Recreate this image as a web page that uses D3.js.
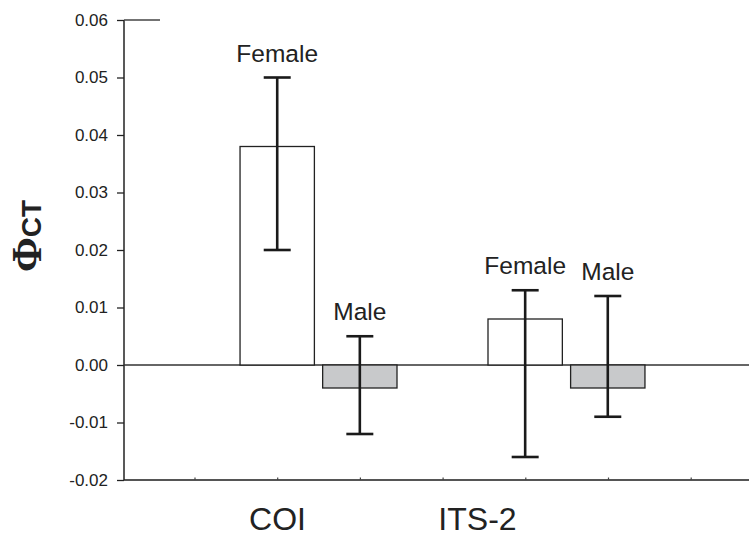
<!DOCTYPE html>
<html>
<head>
<meta charset="utf-8">
<script src="https://cdn.jsdelivr.net/npm/d3@7"></script>
<style>
  html, body { margin: 0; padding: 0; background: #fff; }
  svg { display: block; }
</style>
</head>
<body>
<svg id="chart" width="749" height="539"></svg>
<script>
// ---- data ----
const markers = ["COI", "ITS-2"];
const sexes = ["Female", "Male"];
const meanValues = [[0.038, -0.004], [0.008, -0.004]];
const upperValues = [[0.050, 0.005], [0.013, 0.012]];
const lowerValues = [[0.020, -0.012], [-0.016, -0.009]];
const yTicks = [-0.02, -0.01, 0.00, 0.01, 0.02, 0.03, 0.04, 0.05, 0.06];
const yTickLabels = ["-0.02", "-0.01", "0.00", "0.01", "0.02", "0.03", "0.04", "0.05", "0.06"];

// ---- layout ----
const W = 749, H = 539;
const axisX = 124, plotTop = 20, plotBottom = 480;
const font = "'Liberation Sans', Arial, Helvetica, sans-serif";
const labelOffsets = [-41, -89]; // category label shift from group centre

const svg = d3.select("#chart");

const y = d3.scaleLinear().domain([-0.02, 0.06]).range([plotBottom, plotTop]);
const x0 = d3.scaleBand().domain(markers).range([axisX, 761]).paddingInner(0.367).paddingOuter(0.468);
const x1 = d3.scaleBand().domain(sexes).range([0, x0.bandwidth()]).paddingInner(0.1).paddingOuter(0);

const records = [];
markers.forEach((m, i) => sexes.forEach((s, j) => {
  records.push({ marker: m, sex: s, mean: meanValues[i][j], hi: upperValues[i][j], lo: lowerValues[i][j] });
}));

// bottom axis line with small ticks
const xTickScale = d3.scaleLinear().domain([0, 1]).range([112.3, 195]);
const xMinor = d3.range(1, 8).map(k => xTickScale(k));
svg.append("line").attr("x1", axisX).attr("x2", W).attr("y1", plotBottom).attr("y2", plotBottom)
  .attr("stroke", "#555").attr("stroke-width", 2);
svg.selectAll(".xminor").data(xMinor).enter().append("line")
  .attr("x1", d => d).attr("x2", d => d).attr("y1", plotBottom).attr("y2", plotBottom - 2.5)
  .attr("stroke", "#444").attr("stroke-width", 1.2);

// left axis
const yAxis = d3.axisLeft(y).tickValues(yTicks).tickSize(7).tickPadding(9)
  .tickFormat((d, i) => yTickLabels[i]);
const gy = svg.append("g").attr("transform", `translate(${axisX},0)`).call(yAxis);
gy.select(".domain").attr("stroke", "#222").attr("stroke-width", 1.5).attr("d", `M0,${plotTop}V${plotBottom}`);
gy.selectAll(".tick line").attr("stroke", "#222").attr("stroke-width", 1.3);
gy.selectAll(".tick text").attr("font-family", font).attr("font-size", 17).attr("fill", "#222");
// short top segment at 0.06
svg.append("line").attr("x1", axisX).attr("x2", 160).attr("y1", y(0.06)).attr("y2", y(0.06))
  .attr("stroke", "#444").attr("stroke-width", 1.3);

// zero line
svg.append("line").attr("x1", axisX).attr("x2", W).attr("y1", y(0)).attr("y2", y(0))
  .attr("stroke", "#333").attr("stroke-width", 1.3);

// bars
svg.selectAll(".bar").data(records).enter().append("rect")
  .attr("x", d => x0(d.marker) + x1(d.sex))
  .attr("width", x1.bandwidth())
  .attr("y", d => y(Math.max(0, d.mean)))
  .attr("height", d => Math.abs(y(d.mean) - y(0)))
  .attr("fill", d => d.sex === "Female" ? "#ffffff" : "#c8c9cb")
  .attr("stroke", "#222").attr("stroke-width", 1.3);

// error bars
const cx = d => x0(d.marker) + x1(d.sex) + x1.bandwidth() / 2;
const capW = 13.5;
const eb = svg.selectAll(".err").data(records).enter().append("g");
eb.append("line").attr("x1", cx).attr("x2", cx).attr("y1", d => y(d.hi)).attr("y2", d => y(d.lo))
  .attr("stroke", "#1a1a1a").attr("stroke-width", 2.6);
eb.append("line").attr("x1", d => cx(d) - capW).attr("x2", d => cx(d) + capW)
  .attr("y1", d => y(d.hi)).attr("y2", d => y(d.hi)).attr("stroke", "#1a1a1a").attr("stroke-width", 2.6);
eb.append("line").attr("x1", d => cx(d) - capW).attr("x2", d => cx(d) + capW)
  .attr("y1", d => y(d.lo)).attr("y2", d => y(d.lo)).attr("stroke", "#1a1a1a").attr("stroke-width", 2.6);

// bar labels
svg.selectAll(".blabel").data(records).enter().append("text")
  .attr("x", cx).attr("y", d => y(d.hi) - 16)
  .attr("text-anchor", "middle").attr("font-family", font).attr("font-size", 24.5).attr("fill", "#222")
  .text(d => d.sex);

// category labels
svg.selectAll(".clabel").data(markers).enter().append("text")
  .attr("x", (d, i) => x0(d) + x0.bandwidth() / 2 + labelOffsets[i]).attr("y", 530)
  .attr("text-anchor", "middle").attr("font-family", font).attr("font-size", 32).attr("fill", "#222")
  .text(d => d);

// y title: Phi_CT
const yt = svg.append("text").attr("transform", "translate(41,236) rotate(-90)")
  .attr("text-anchor", "middle").attr("fill", "#222");
yt.append("tspan").attr("font-family", "'Liberation Serif', 'Times New Roman', serif")
  .attr("font-weight", "bold").attr("font-size", 42).text("Φ");
yt.append("tspan").attr("font-family", font).attr("font-weight", "bold").attr("font-size", 28).text("CT");
</script>
</body>
</html>
